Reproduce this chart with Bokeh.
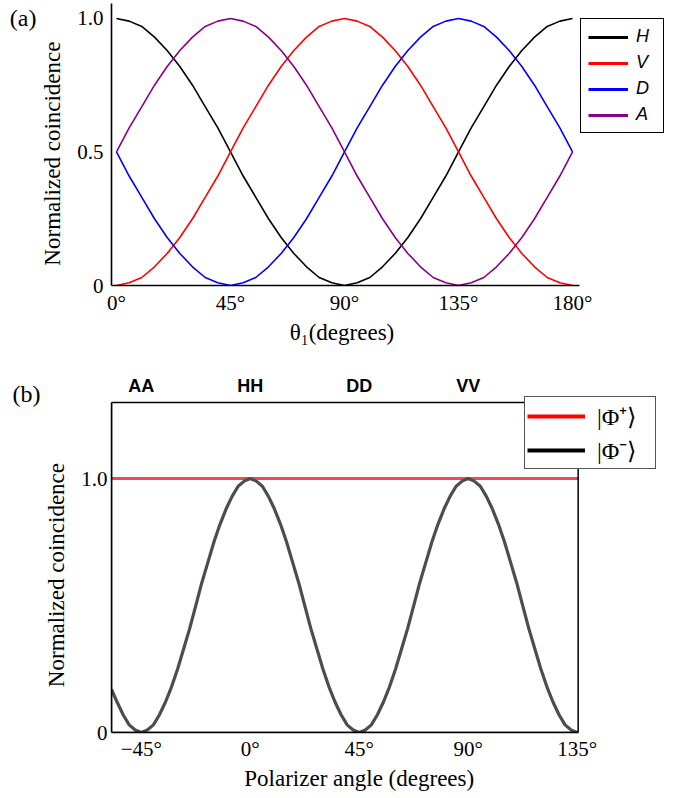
from bokeh.plotting import figure
from bokeh.models import Range1d, FixedTicker, Legend, LegendItem, LinearAxis, BoxAnnotation
from bokeh.core.properties import value
from bokeh.layouts import column
from bokeh.embed import file_html
from bokeh.resources import INLINE

NAN = float("nan")

# ---------------- data: panel (a) ----------------
theta1 = [0, 5, 10, 15, 20, 25, 30, 35, 40, 45, 50, 55, 60, 65, 70, 75, 80, 85, 90,
          95, 100, 105, 110, 115, 120, 125, 130, 135, 140, 145, 150, 155, 160, 165, 170, 175, 180]
coin_H = [1.00, 0.99, 0.97, 0.93, 0.88, 0.82, 0.75, 0.67, 0.59, 0.50, 0.41, 0.33, 0.25, 0.18, 0.12, 0.07, 0.03, 0.01, 0.00,
          0.01, 0.03, 0.07, 0.12, 0.18, 0.25, 0.33, 0.41, 0.50, 0.59, 0.67, 0.75, 0.82, 0.88, 0.93, 0.97, 0.99, 1.00]
coin_V = [0.00, 0.01, 0.03, 0.07, 0.12, 0.18, 0.25, 0.33, 0.41, 0.50, 0.59, 0.67, 0.75, 0.82, 0.88, 0.93, 0.97, 0.99, 1.00,
          0.99, 0.97, 0.93, 0.88, 0.82, 0.75, 0.67, 0.59, 0.50, 0.41, 0.33, 0.25, 0.18, 0.12, 0.07, 0.03, 0.01, 0.00]
coin_D = [0.50, 0.41, 0.33, 0.25, 0.18, 0.12, 0.07, 0.03, 0.01, 0.00, 0.01, 0.03, 0.07, 0.12, 0.18, 0.25, 0.33, 0.41, 0.50,
          0.59, 0.67, 0.75, 0.82, 0.88, 0.93, 0.97, 0.99, 1.00, 0.99, 0.97, 0.93, 0.88, 0.82, 0.75, 0.67, 0.59, 0.50]
coin_A = [0.50, 0.59, 0.67, 0.75, 0.82, 0.88, 0.93, 0.97, 0.99, 1.00, 0.99, 0.97, 0.93, 0.88, 0.82, 0.75, 0.67, 0.59, 0.50,
          0.41, 0.33, 0.25, 0.18, 0.12, 0.07, 0.03, 0.01, 0.00, 0.01, 0.03, 0.07, 0.12, 0.18, 0.25, 0.33, 0.41, 0.50]
series_a_names = ["H", "V", "D", "A"]
series_a_colors = ["#000000", "#ff0000", "#0000ff", "#880088"]

xticks_a = [0, 45, 90, 135, 180]
xlabels_a = ["0°", "45°", "90°", "135°", "180°"]
yticks_a = [0, 0.5, 1.0]
ylabels_a = ["0", "0.5", "1.0"]
xtitle_a = "\u03b8\u2081(degrees)"
ytitle = "Normalized coincidence"
panel_tag_a = "(a)"

# ---------------- data: panel (b) ----------------
pol_angle = [-57.3, -55, -52.5, -50, -47.5, -45, -42.5, -40, -37.5, -35, -32.5, -30, -27.5, -25, -22.5,
             -20, -17.5, -15, -12.5, -10, -7.5, -5, -2.5,
             0, 2.5, 5, 7.5, 10, 12.5, 15, 17.5, 20, 22.5, 25, 27.5, 30, 32.5, 35, 37.5, 40, 42.5, 45,
             47.5, 50, 52.5, 55, 57.5, 60, 62.5, 65, 67.5, 70, 72.5, 75, 77.5, 80, 82.5, 85, 87.5, 90,
             92.5, 95, 97.5, 100, 102.5, 105, 107.5, 110, 112.5, 115, 117.5, 120, 122.5, 125, 127.5, 130, 132.5, 135]
phi_minus = [0.17, 0.12, 0.07, 0.03, 0.01, 0.00, 0.01, 0.03, 0.07, 0.12, 0.18, 0.25, 0.33, 0.41, 0.50,
             0.59, 0.67, 0.75, 0.82, 0.88, 0.93, 0.97, 0.99,
             1.00, 0.99, 0.97, 0.93, 0.88, 0.82, 0.75, 0.67, 0.59, 0.50, 0.41, 0.33, 0.25, 0.18, 0.12, 0.07, 0.03, 0.01, 0.00,
             0.01, 0.03, 0.07, 0.12, 0.18, 0.25, 0.33, 0.41, 0.50, 0.59, 0.67, 0.75, 0.82, 0.88, 0.93, 0.97, 0.99, 1.00,
             0.99, 0.97, 0.93, 0.88, 0.82, 0.75, 0.67, 0.59, 0.50, 0.41, 0.33, 0.25, 0.18, 0.12, 0.07, 0.03, 0.01, 0.00]
phi_plus_angle = [-57.3, 135.4]
phi_plus = [1.0, 1.0]
series_b_names = ["|\u03a6\u207a\u27e9", "|\u03a6\u207b\u27e9"]

xticks_b = [-45, 0, 45, 90, 135]
xlabels_b = ["\u221245°", "0°", "45°", "90°", "135°"]
yticks_b = [0, 1.0]
ylabels_b = ["0", "1.0"]
top_ticks_b = [-45, 0, 45, 90]
top_labels_b = ["AA", "HH", "DD", "VV"]
xtitle_b = "Polarizer angle (degrees)"
panel_tag_b = "(b)"

SERIF = "Liberation Serif"


def style_axis(ax, ticks, labels, standoff, size="21px"):
    ax.ticker = FixedTicker(ticks=ticks)
    ax.major_label_overrides = {t: l for t, l in zip(ticks, labels)}
    ax.major_tick_line_color = None
    ax.minor_tick_line_color = None
    ax.major_tick_in = 0
    ax.major_tick_out = 0
    ax.major_label_text_font = SERIF
    ax.major_label_text_font_size = size
    ax.major_label_text_color = "black"
    ax.major_label_standoff = standoff
    ax.axis_label_text_font = SERIF
    ax.axis_label_text_font_size = "23px"
    ax.axis_label_text_font_style = "normal"
    ax.axis_label_text_color = "black"


def text_axis(pos, text, standoff, size, orientation="horizontal"):
    # an extra axis whose single tick label carries a piece of text
    ax = LinearAxis()
    style_axis(ax, [pos], [text], standoff, size=size)
    ax.axis_line_color = None
    ax.major_label_orientation = orientation
    return ax


def legend_style(leg):
    leg.margin = 0
    leg.label_text_color = "black"
    leg.border_line_alpha = 1
    leg.background_fill_color = "white"
    leg.background_fill_alpha = 1


# ---------------- panel (a) ----------------
p1 = figure(width=683, height=353, output_backend="svg", toolbar_location=None,
            x_range=Range1d(-1.97, 223.8), y_range=Range1d(0, 1.056),
            min_border_left=111, min_border_right=0, min_border_top=3, min_border_bottom=68)
p1.grid.visible = False
p1.outline_line_color = None
for name, ys, c in zip(series_a_names, [coin_H, coin_V, coin_D, coin_A], series_a_colors):
    p1.line(theta1, ys, line_color=c, line_width=1.6)

style_axis(p1.xaxis[0], xticks_a, xlabels_a, 5)
style_axis(p1.yaxis[0], yticks_a, ylabels_a, 8)
p1.xaxis[0].bounds = (-1.97, 182.8)
for ax in (p1.xaxis[0], p1.yaxis[0]):
    ax.axis_line_color = "black"
    ax.axis_line_width = 1.6
p1.add_layout(text_axis(0.494, ytitle, 9, "23px", "vertical"), "left")
p1.add_layout(text_axis(1.0, panel_tag_a, 1, "24px"), "left")
p1.add_layout(text_axis(89, xtitle_a, 2, "23px"), "below")

leg_items_a = []
for name, c in zip(series_a_names, series_a_colors):
    r = p1.line(x=[NAN], y=[NAN], line_color=c, line_width=3)
    leg_items_a.append(LegendItem(label=name, renderers=[r]))
leg_a = Legend(items=leg_items_a, location=(469, 152), padding=7, spacing=5,
               glyph_width=40, glyph_height=20, label_height=20, label_standoff=8,
               label_text_font="Liberation Sans", label_text_font_style="italic",
               label_text_font_size="18px", border_line_color="black", border_line_width=1.5)
legend_style(leg_a)
p1.add_layout(leg_a)

# ---------------- panel (b) ----------------
p2 = figure(width=683, height=444, output_backend="svg", toolbar_location=None,
            x_range=Range1d(-57.3, 178.9), y_range=Range1d(0, 1.406),
            min_border_left=107, min_border_right=0, min_border_top=22, min_border_bottom=65)
p2.grid.visible = False
p2.outline_line_color = None
p2.add_layout(BoxAnnotation(left=-57.3, right=135.4, bottom=0, top=1.3, fill_color=None,
                            fill_alpha=0, line_color="black", line_alpha=1, line_width=1.5))
p2.line(phi_plus_angle, phi_plus, line_color="#ee2a2a", line_alpha=0.85, line_width=3)
p2.line(pol_angle, phi_minus, line_color="#4d4d4d", line_width=3.2)
p2.text(x=top_ticks_b, y=1.3, text=top_labels_b, text_font=value("Liberation Sans"),
        text_font_style="bold", text_font_size="18px", text_align="center",
        text_baseline="bottom", y_offset=-6, text_color="black")

style_axis(p2.xaxis[0], xticks_b, xlabels_b, 4)
style_axis(p2.yaxis[0], yticks_b, ylabels_b, 4)
p2.xaxis[0].bounds = (-57.3, 135.4)
p2.yaxis[0].bounds = (0, 1.3)
for ax in (p2.xaxis[0], p2.yaxis[0]):
    ax.axis_line_color = "black"
    ax.axis_line_width = 1.5
p2.add_layout(text_axis(0.62, ytitle, 9, "23px", "vertical"), "left")
p2.add_layout(text_axis(1.335, panel_tag_b, 1, "24px"), "left")
p2.add_layout(text_axis(45, xtitle_b, 2, "23px"), "below")

r_plus = p2.line(x=[NAN], y=[NAN], line_color="#ff0000", line_width=4)
r_minus = p2.line(x=[NAN], y=[NAN], line_color="#000000", line_width=4)
leg_b = Legend(items=[LegendItem(label=series_b_names[0], renderers=[r_plus]),
                      LegendItem(label=series_b_names[1], renderers=[r_minus])],
               location=(413, 263), padding=2, spacing=1,
               glyph_width=58, glyph_height=24, label_height=24, label_width=56, label_standoff=12,
               label_text_font=SERIF, label_text_font_size="24px",
               border_line_color="#555555", border_line_width=1)
legend_style(leg_b)
p2.add_layout(leg_b)

layout = column(p1, p2, spacing=0)
open("out.html", "w").write(file_html(layout, INLINE))
